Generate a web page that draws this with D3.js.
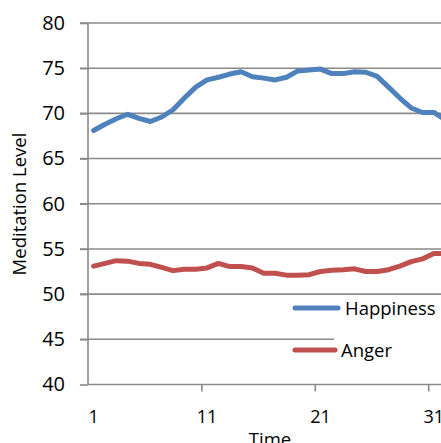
<!DOCTYPE html>
<html><head><meta charset="utf-8">
<script src="https://cdn.jsdelivr.net/npm/d3@7"></script>
<style>
html,body{margin:0;padding:0;background:#fff;}
svg{display:block;font-family:"Open Sans",sans-serif;}
</style></head>
<body><svg id="c" width="441" height="443"></svg>
<script>
const categories = d3.range(1, 33);
const happiness = [68.1,68.8,69.4,69.9,69.45,69.1,69.6,70.4,71.7,72.9,73.7,74.0,74.35,74.6,74.05,73.9,73.7,74.0,74.7,74.8,74.9,74.4,74.4,74.6,74.55,74.1,72.9,71.7,70.6,70.1,70.1,69.3];
const anger = [53.1,53.4,53.7,53.65,53.4,53.3,52.95,52.6,52.75,52.75,52.9,53.4,53.05,53.05,52.9,52.3,52.3,52.1,52.1,52.15,52.5,52.65,52.7,52.8,52.5,52.5,52.7,53.1,53.6,53.9,54.5,54.5];
const yTicks = [40,45,50,55,60,65,70,75,80];
const xTickLabels = [1,11,21,31];
const seriesNames = ["Happiness","Anger"];
const colors = ["#4F81BD","#C0504D"];

const svg = d3.select("#c");
const mLeft = 88, mTop = 23, mBottom = 384.5, step = 11.34;
const x = d3.scaleBand().domain(categories).range([mLeft, mLeft + categories.length*step]).padding(0);
const xl = d3.scaleLinear().domain([0, categories.length]).range([mLeft, mLeft + categories.length*step]);
const y = d3.scaleLinear().domain([40,80]).range([mBottom, mTop]);

// gridlines
svg.append("g").selectAll("line").data(yTicks.slice(1)).join("line")
  .attr("x1", 80).attr("x2", 441).attr("y1", d=>y(d)).attr("y2", d=>y(d))
  .attr("stroke","#8a8a8a").attr("stroke-width",1.6);

// y axis
const ya = svg.append("g").attr("transform",`translate(${mLeft},0)`)
  .call(d3.axisLeft(y).tickValues(yTicks).tickSize(8).tickPadding(15));
ya.selectAll("line").attr("stroke","#8a8a8a").attr("stroke-width",1.6);
ya.select(".domain").attr("stroke","#8a8a8a").attr("stroke-width",1.6).attr("d",`M0,${mTop}V${mBottom}`);
ya.selectAll("text").attr("font-size",20).attr("fill","#000").attr("font-family","Open Sans");

// x axis line and ticks
const xa = svg.append("g").attr("transform",`translate(0,${mBottom})`)
  .call(d3.axisBottom(xl).tickValues([10,20,30]).tickSize(7).tickFormat(""));
xa.selectAll("line").attr("stroke","#8a8a8a").attr("stroke-width",1.6);
xa.select(".domain").attr("stroke","#8a8a8a").attr("stroke-width",1.6).attr("d",`M${mLeft},0H441`);
// x labels
const xb = svg.append("g").attr("transform",`translate(0,${mBottom})`)
  .call(d3.axisBottom(x).tickValues(xTickLabels).tickSize(0).tickPadding(26));
xb.select(".domain").remove();
xb.selectAll("text").attr("font-size",18).attr("fill","#000").attr("font-family","Open Sans");

// lines
const line = d3.line().x((d,i)=>x(categories[i]) + x.bandwidth()/2).y(d=>y(d)).curve(d3.curveLinear);
[happiness, anger].forEach((s,k)=>{
  svg.append("path").datum(s).attr("d", line).attr("fill","none")
    .attr("stroke", colors[k]).attr("stroke-width",5).attr("stroke-linejoin","round").attr("stroke-linecap","round");
});

// legend
svg.append("rect").attr("x",334).attr("y",298).attr("width",107).attr("height",66).attr("fill","#fff");
const lg = [{n:seriesNames[0],c:colors[0],ly:308,x2:338,tx:345},{n:seriesNames[1],c:colors[1],ly:350,x2:335,tx:341}];
lg.forEach(d=>{
  svg.append("line").attr("x1",295).attr("x2",d.x2).attr("y1",d.ly).attr("y2",d.ly)
    .attr("stroke",d.c).attr("stroke-width",5).attr("stroke-linecap","round");
  svg.append("text").attr("x",d.tx).attr("y",d.ly+7).attr("font-size",18.5).attr("fill","#000").text(d.n);
});

// axis titles
svg.append("text").attr("transform","translate(26,204) rotate(-90)").attr("text-anchor","middle")
  .attr("font-size",18.5).attr("fill","#000").text("Meditation Level");
svg.append("text").attr("x",270).attr("y",446).attr("text-anchor","middle")
  .attr("font-size",18.5).attr("fill","#000").text("Time");
</script></body></html>
